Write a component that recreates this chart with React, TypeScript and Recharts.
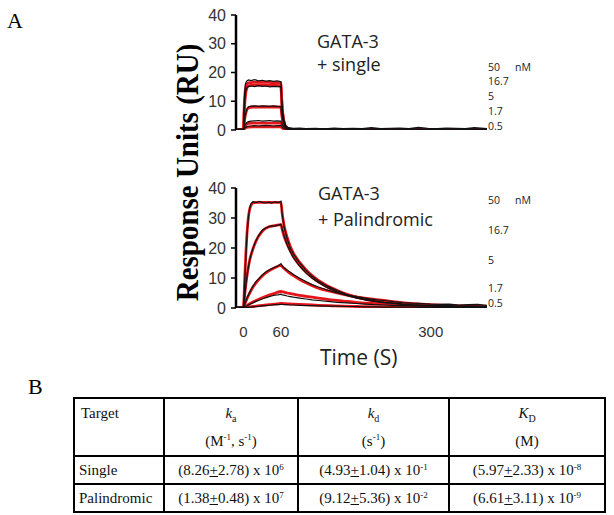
import { LineChart, Line, XAxis, YAxis } from 'recharts';

const RED = '#e5161b';
const INK = '#111';

const concLabels = ['50', '16.7', '5', '1.7', '0.5'];
const timeTicks = [0, 60, 300];
const ruTicks = [0, 10, 20, 30, 40];

// GATA-3 + single : fitted curves (red)
const singleFitTime = [-12, 0, 1, 2, 3, 5, 8, 15, 30, 45, 60, 61, 62, 63, 65, 68, 72, 80, 100, 150, 200, 300, 390];
const singleFit50 = [0, 0, 7, 11.5, 14, 15.8, 16.4, 16.6, 16.6, 16.5, 16.4, 11.5, 8, 5.5, 2.8, 1.0, 0.4, 0.15, 0.05, 0, 0, 0, 0];
const singleFit16 = [0, 0, 5, 9, 11.8, 14.3, 15.3, 15.6, 15.6, 15.5, 15.4, 10.8, 7.5, 5.2, 2.6, 0.9, 0.35, 0.12, 0.05, 0, 0, 0, 0];
const singleFit5 = [0, 0, 2, 3.8, 5.2, 6.8, 7.7, 8.0, 8.0, 8.0, 8.0, 5.8, 4.2, 3.0, 1.6, 0.7, 0.3, 0.1, 0.03, 0, 0, 0, 0];
const singleFit1 = [0, 0, 0.6, 1.1, 1.5, 2.0, 2.3, 2.4, 2.4, 2.4, 2.4, 1.9, 1.5, 1.2, 0.8, 0.4, 0.2, 0.08, 0.02, 0, 0, 0, 0];
const singleFit05 = [0, 0, 0.3, 0.5, 0.7, 0.9, 1.0, 1.1, 1.1, 1.1, 1.1, 0.9, 0.7, 0.55, 0.4, 0.2, 0.1, 0.05, 0, 0, 0, 0, 0];

// GATA-3 + single : measured traces (black)
const singleRawTime = [-12, -6, 0, 1, 2, 3, 5, 8, 12, 18, 24, 30, 36, 42, 48, 54, 60, 61, 62, 63, 65, 68, 72, 80, 90, 100, 115, 130, 145, 160, 175, 190, 205, 220, 235, 250, 265, 280, 295, 310, 325, 340, 355, 370, 385, 390];
const singleRaw50 = [0.2, 0.3, 0.3, 8, 13, 16, 17, 17.4, 17.2, 17.5, 17.1, 17.3, 17.0, 17.2, 16.9, 17.1, 16.8, 12, 8.5, 6, 3.2, 1.4, 0.8, 0.6, 0.7, 0.5, 0.6, 0.4, 0.7, 0.5, 0.6, 0.5, 0.8, 0.5, 0.6, 0.7, 0.5, 0.9, 0.6, 0.5, 0.7, 0.6, 0.5, 0.8, 0.6, 0.5];
const singleRaw16 = [0.1, 0.2, 0.2, 5.5, 10, 13, 14.6, 15.2, 15.3, 15.1, 15.4, 15.2, 15.3, 15.0, 15.2, 15.1, 15.0, 10.5, 7.2, 5, 2.6, 1, 0.5, 0.3, 0.4, 0.3, 0.3, 0.4, 0.3, 0.3, 0.4, 0.3, 0.3, 0.4, 0.3, 0.3, 0.4, 0.3, 0.3, 0.4, 0.3, 0.3, 0.4, 0.3, 0.3, 0.4];
const singleRaw5 = [0.1, 0.2, 0.2, 2.2, 4, 5.4, 7, 8.1, 8.3, 8.4, 8.2, 8.4, 8.3, 8.2, 8.4, 8.2, 8.1, 6, 4.4, 3.2, 1.8, 0.8, 0.4, 0.2, 0.3, 0.2, 0.3, 0.2, 0.3, 0.2, 0.3, 0.2, 0.3, 0.2, 0.3, 0.2, 0.3, 0.2, 0.3, 0.2, 0.3, 0.2, 0.3, 0.2, 0.3, 0.2];
const singleRaw1 = [0.1, 0.1, 0.1, 0.8, 1.4, 1.9, 2.5, 2.9, 3.1, 3.2, 3.3, 3.1, 3.2, 3.3, 3.1, 3.2, 3.1, 2.5, 2.0, 1.6, 1.1, 0.6, 0.3, 0.2, 0.1, 0.2, 0.1, 0.2, 0.1, 0.2, 0.1, 0.2, 0.1, 0.2, 0.1, 0.2, 0.1, 0.2, 0.1, 0.2, 0.1, 0.2, 0.1, 0.2, 0.1, 0.2];
const singleRaw05 = [0, 0.1, 0.1, 0.4, 0.7, 0.9, 1.1, 1.3, 1.4, 1.5, 1.4, 1.5, 1.6, 1.5, 1.4, 1.5, 1.5, 1.2, 1.0, 0.8, 0.5, 0.3, 0.2, 0.1, 0.1, 0.1, 0.1, 0.1, 0.1, 0.1, 0.1, 0.1, 0.1, 0.1, 0.1, 0.1, 0.1, 0.1, 0.1, 0.1, 0.1, 0.1, 0.1, 0.1, 0.1, 0.1];

// GATA-3 + Palindromic : fitted curves (red)
const palFitTime = [-12, 0, 2, 4, 6, 8, 10, 12, 15, 20, 30, 40, 50, 60, 62, 65, 70, 75, 80, 90, 100, 110, 120, 140, 160, 180, 200, 225, 250, 300, 350, 390];
const palFit50 = [0, 0, 10, 19, 26, 30.5, 33, 34.2, 35, 35.2, 35.2, 35.2, 35.2, 35.2, 31.5, 27.5, 23.5, 20.5, 18.3, 15.2, 12.8, 10.8, 9.2, 6.8, 5.0, 3.7, 2.8, 2.0, 1.5, 0.8, 0.5, 0.35];
const palFit16 = [0, 0, 4.5, 8.2, 11.3, 13.8, 16, 17.6, 19.6, 22.3, 25.6, 27, 27.5, 27.8, 26.2, 24, 21.3, 19, 17.1, 14.2, 12, 10.2, 8.7, 6.4, 4.8, 3.6, 2.7, 1.9, 1.4, 0.8, 0.5, 0.35];
const palFit5 = [0, 0, 1.2, 2.3, 3.3, 4.2, 5.0, 5.8, 6.9, 8.4, 10.7, 12.3, 13.4, 14.2, 13.8, 13.2, 12.3, 11.5, 10.8, 9.5, 8.4, 7.4, 6.6, 5.5, 4.5, 3.7, 3.1, 2.5, 1.9, 1.1, 0.7, 0.5];
const palFit1 = [0, 0, 0.3, 0.6, 0.9, 1.2, 1.4, 1.7, 2.0, 2.5, 3.4, 4.2, 4.9, 5.5, 5.4, 5.3, 5.0, 4.8, 4.6, 4.2, 3.9, 3.6, 3.3, 2.7, 2.3, 1.9, 1.6, 1.3, 1.0, 0.65, 0.4, 0.3];
const palFit05 = [0, 0, 0.1, 0.15, 0.2, 0.3, 0.35, 0.4, 0.5, 0.6, 0.85, 1.1, 1.3, 1.5, 1.5, 1.45, 1.4, 1.35, 1.3, 1.2, 1.1, 1.0, 0.9, 0.75, 0.6, 0.5, 0.45, 0.35, 0.3, 0.2, 0.15, 0.1];

// GATA-3 + Palindromic : measured traces (black)
const palRawTime = [-12, -6, 0, 2, 4, 6, 8, 10, 12, 15, 20, 25, 30, 35, 40, 45, 50, 55, 60, 62, 65, 70, 75, 80, 90, 100, 110, 120, 135, 150, 165, 180, 195, 210, 225, 240, 255, 270, 285, 300, 315, 330, 345, 360, 375, 390];
const palRaw50 = [0.2, 0.3, 0.3, 9, 18, 25.5, 30.5, 33.3, 34.7, 35.4, 35.1, 35.5, 35.2, 35.0, 35.3, 35.0, 35.4, 35.1, 35.6, 31.2, 27, 23, 20, 18, 15, 12.6, 10.6, 9.0, 7.2, 5.8, 4.6, 3.6, 2.9, 2.4, 1.9, 1.6, 1.3, 1.1, 1.0, 0.9, 0.7, 0.8, 0.6, 0.7, 0.6, 0.5];
const palRaw16 = [0.1, 0.2, 0.2, 4.2, 8, 11.2, 13.9, 16, 17.8, 19.8, 22.5, 24.4, 25.9, 26.6, 27.1, 27.4, 27.3, 27.6, 27.9, 26.4, 24, 21, 18.7, 16.8, 14, 11.7, 9.9, 8.5, 6.7, 5.3, 4.2, 3.4, 2.7, 2.2, 1.8, 1.5, 1.2, 1.0, 0.9, 0.8, 0.7, 0.6, 0.6, 0.5, 0.5, 0.4];
const palRaw5 = [0.1, 0.2, 0.2, 1.2, 2.4, 3.5, 4.4, 5.3, 6.1, 7.2, 8.8, 9.9, 11.0, 11.9, 12.6, 13.1, 13.6, 14.0, 14.8, 14.0, 13.4, 12.6, 11.9, 11.2, 9.9, 8.8, 7.8, 7.0, 5.9, 5.0, 4.4, 3.8, 3.3, 2.8, 2.5, 2.1, 1.8, 1.6, 1.5, 1.3, 1.2, 1.3, 1.0, 1.1, 1.2, 0.9];
const palRaw1 = [0.1, 0.1, 0.1, 0.3, 0.5, 0.8, 1.0, 1.2, 1.4, 1.7, 2.2, 2.6, 3.0, 3.4, 3.7, 4.0, 4.3, 4.4, 4.6, 4.4, 4.3, 4.0, 3.8, 3.6, 3.3, 3.0, 2.7, 2.5, 2.2, 1.9, 1.7, 1.5, 1.3, 1.1, 1.0, 0.9, 0.8, 0.7, 0.6, 0.6, 0.5, 0.5, 0.4, 0.4, 0.4, 0.3];
const palRaw05 = [0, 0, 0, 0.1, 0.1, 0.2, 0.2, 0.3, 0.3, 0.4, 0.5, 0.6, 0.7, 0.8, 0.9, 1.0, 1.1, 1.1, 1.2, 1.2, 1.1, 1.1, 1.0, 1.0, 0.9, 0.8, 0.8, 0.7, 0.6, 0.6, 0.5, 0.5, 0.4, 0.4, 0.3, 0.3, 0.3, 0.3, 0.2, 0.2, 0.2, 0.2, 0.2, 0.1, 0.1, 0.1];

// kinetic table
const tableRows = [
  { target: 'Single', ka: ['8.26', '2.78', '6'], kd: ['4.93', '1.04', '-1'], KD: ['5.97', '2.33', '-8'] },
  { target: 'Palindromic', ka: ['1.38', '0.48', '7'], kd: ['9.12', '5.36', '-2'], KD: ['6.61', '3.11', '-9'] },
];

const pts = (ts: number[], vs: number[]) => ts.map((t, i) => ({ t, v: vs[i] }));

const tickFont = { fontSize: 16, fill: '#333', fontFamily: 'Liberation Sans, Arial, sans-serif' };

function Sensorgram({ fitTime, fits, rawTime, raws, height, margin, showTime }: any) {
  return (
    <LineChart width={614} height={height} margin={margin}>
      <XAxis
        dataKey="t"
        type="number"
        domain={[-12, 390]}
        allowDataOverflow
        ticks={timeTicks}
        hide={!showTime}
        axisLine={false}
        tickLine={false}
        tickMargin={12}
        height={30}
        tick={{ ...tickFont, fontSize: 15 }}
      />
      <YAxis
        type="number"
        domain={[0, 40]}
        ticks={ruTicks}
        width={40}
        tickSize={5}
        tickMargin={5}
        axisLine={{ stroke: '#000', strokeWidth: 2.5 }}
        tickLine={{ stroke: '#000', strokeWidth: 1.5 }}
        tick={tickFont}
        allowDataOverflow
      />
      {fits.map((f: number[], i: number) => (
        <Line key={'f' + i} data={pts(fitTime, f)} dataKey="v" type="monotone" stroke={RED}
          strokeWidth={2.8} dot={false} isAnimationActive={false} />
      ))}
      {raws.map((r: number[], i: number) => (
        <Line key={'r' + i} data={pts(rawTime, r)} dataKey="v" type="linear" stroke={INK}
          strokeWidth={1.2} dot={false} isAnimationActive={false} />
      ))}
    </LineChart>
  );
}

const sansLbl = { fontFamily: "'Open Sans', sans-serif", fill: '#222' };
const serif = 'Liberation Serif, Times New Roman, serif';

function Pm({ v }: { v: string[] }) {
  return (
    <span>
      ({v[0]}<u>+</u>{v[1]}) x 10<sup style={{ fontSize: 9, verticalAlign: 5, lineHeight: 0 }}>{v[2]}</sup>
    </span>
  );
}

export default function App() {
  const cell: any = { border: '2px solid #000', padding: 0, textAlign: 'center', verticalAlign: 'middle' };
  return (
    <div style={{ position: 'absolute', left: 0, top: 0, width: 614, height: 515, background: '#fff' }}>
      <div style={{ position: 'absolute', left: 0, top: 0 }}>
        <Sensorgram
          fitTime={singleFitTime}
          fits={[singleFit50, singleFit16, singleFit5, singleFit1, singleFit05]}
          rawTime={singleRawTime}
          raws={[singleRaw50, singleRaw16, singleRaw5, singleRaw1, singleRaw05]}
          height={150}
          margin={{ top: 15, right: 127, bottom: 20, left: 196 }}
          showTime={false}
        />
      </div>
      <div style={{ position: 'absolute', left: 0, top: 170 }}>
        <Sensorgram
          fitTime={palFitTime}
          fits={[palFit50, palFit16, palFit5, palFit1, palFit05]}
          rawTime={palRawTime}
          raws={[palRaw50, palRaw16, palRaw5, palRaw1, palRaw05]}
          height={172}
          margin={{ top: 18, right: 127, bottom: 4, left: 196 }}
          showTime={true}
        />
      </div>

      <svg width={614} height={400} style={{ position: 'absolute', left: 0, top: 0, pointerEvents: 'none' }}>
        <text x={7} y={28} fontSize={22} fontFamily={serif}>A</text>
        <text x={28} y={394} fontSize={22} fontFamily={serif}>B</text>

        <text transform="translate(198,172.5) scale(1.12,1) rotate(-90)" textAnchor="middle"
          fontSize={29} fontWeight="bold" fontFamily={serif}>Response Units (RU)</text>

        <text x={317} y={48} fontSize={18} {...sansLbl}>GATA-3</text>
        <text x={317} y={71} fontSize={18} {...sansLbl}>+ single</text>
        <text x={318} y={200} fontSize={18} {...sansLbl}>GATA-3</text>
        <text x={318} y={226} fontSize={18} {...sansLbl}>+ Palindromic</text>

        {[71, 85, 100, 115, 130].map((y, i) => (
          <text key={'a' + i} x={488} y={y} fontSize={10.5} {...sansLbl}>{concLabels[i]}</text>
        ))}
        <text x={515} y={71} fontSize={10.5} {...sansLbl}>nM</text>
        {[204, 234, 264, 292, 307].map((y, i) => (
          <text key={'b' + i} x={488} y={y} fontSize={10.5} {...sansLbl}>{concLabels[i]}</text>
        ))}
        <text x={515} y={204} fontSize={10.5} {...sansLbl}>nM</text>

        <text x={320} y={365} fontSize={21} {...sansLbl}>Time (S)</text>
      </svg>

      <table style={{
        position: 'absolute', left: 73, top: 397, width: 531, borderCollapse: 'collapse',
        fontFamily: serif, fontSize: 15, color: '#111', tableLayout: 'fixed',
      }}>
        <colgroup>
          <col style={{ width: 90 }} />
          <col style={{ width: 134 }} />
          <col style={{ width: 151 }} />
          <col style={{ width: 156 }} />
        </colgroup>
        <tbody>
          <tr style={{ height: 54 }}>
            <td style={{ ...cell, textAlign: 'left', verticalAlign: 'top', paddingLeft: 6, lineHeight: '28px' }}>Target</td>
            <td style={{ ...cell, verticalAlign: 'top', lineHeight: '28px' }}>
              <div><i>k</i><sub style={{ fontSize: 10, lineHeight: 0 }}>a</sub></div>
              <div>(M<sup style={{ fontSize: 9, lineHeight: 0 }}>-1</sup>, s<sup style={{ fontSize: 9, lineHeight: 0 }}>-1</sup>)</div>
            </td>
            <td style={{ ...cell, verticalAlign: 'top', lineHeight: '28px' }}>
              <div><i>k</i><sub style={{ fontSize: 10, lineHeight: 0 }}>d</sub></div>
              <div>(s<sup style={{ fontSize: 9, lineHeight: 0 }}>-1</sup>)</div>
            </td>
            <td style={{ ...cell, verticalAlign: 'top', lineHeight: '28px' }}>
              <div><i>K</i><sub style={{ fontSize: 10, lineHeight: 0 }}>D</sub></div>
              <div>(M)</div>
            </td>
          </tr>
          {tableRows.map((r) => (
            <tr key={r.target} style={{ height: 28 }}>
              <td style={{ ...cell, textAlign: 'left', paddingLeft: 4 }}>{r.target}</td>
              <td style={cell}><Pm v={r.ka} /></td>
              <td style={cell}><Pm v={r.kd} /></td>
              <td style={cell}><Pm v={r.KD} /></td>
            </tr>
          ))}
        </tbody>
      </table>
    </div>
  );
}
